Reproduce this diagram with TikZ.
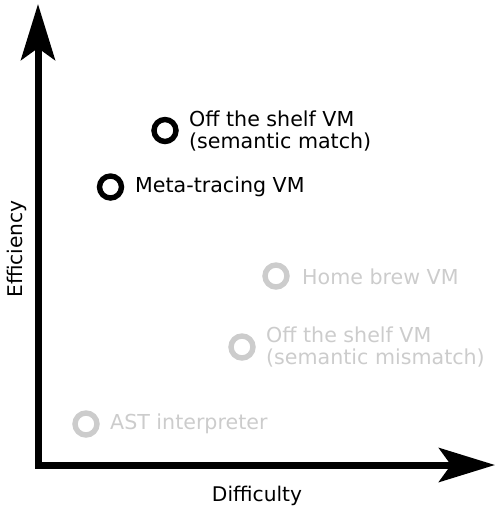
\documentclass[tikz,border=0pt]{standalone}
\usepackage{fontspec}
\setmainfont{DejaVu Sans}
\usetikzlibrary{arrows.meta}
\definecolor{faded}{HTML}{CCCCCC}
\tikzset{
  axis/.style={line width=7pt, line join=miter,
    {Stealth[length=56pt,width=34pt,inset=12pt]}-{Stealth[length=56pt,width=34pt,inset=12pt]}},
  dot/.style={circle, draw=black, line width=5.4pt, minimum size=22pt, inner sep=0pt},
  fadeddot/.style={dot, draw=faded},
  lbl/.style={anchor=west, inner sep=0pt, align=left, font=\fontsize{20.6}{22.5}\selectfont},
  fadedlbl/.style={lbl, text=faded},
  axlbl/.style={inner sep=0pt, font=\fontsize{20.2}{22}\selectfont}
}
\begin{document}
\begin{tikzpicture}[x=1pt,y=-1pt]
\useasboundingbox (0,0) rectangle (495,507);
\coordinate (top) at (38,4);
\coordinate (origin) at (38,465);
\coordinate (right) at (495,465);
\draw[axis] (top) -- (origin) -- (right);
\node[axlbl] (xlab) at (257,496) {Difficulty};
\node[axlbl, rotate=90] (ylab) at (17,249) {Efficiency};
% points
\node[dot] (shelf) at (165,130.5) {};
\node[lbl] (shelfl) at (189,131) {Off the shelf VM\\(semantic match)};
\node[dot] (meta) at (110.5,187) {};
\node[lbl] (metal) at (135,187) {Meta-tracing VM};
\node[fadeddot] (home) at (276,276) {};
\node[fadedlbl] (homel) at (302,277) {Home brew VM};
\node[fadeddot] (mis) at (242,347) {};
\node[fadedlbl] (misl) at (266,347) {Off the shelf VM\\(semantic mismatch)};
\node[fadeddot] (ast) at (86,424) {};
\node[fadedlbl] (astl) at (110,424) {AST interpreter};
\end{tikzpicture}
\end{document}
